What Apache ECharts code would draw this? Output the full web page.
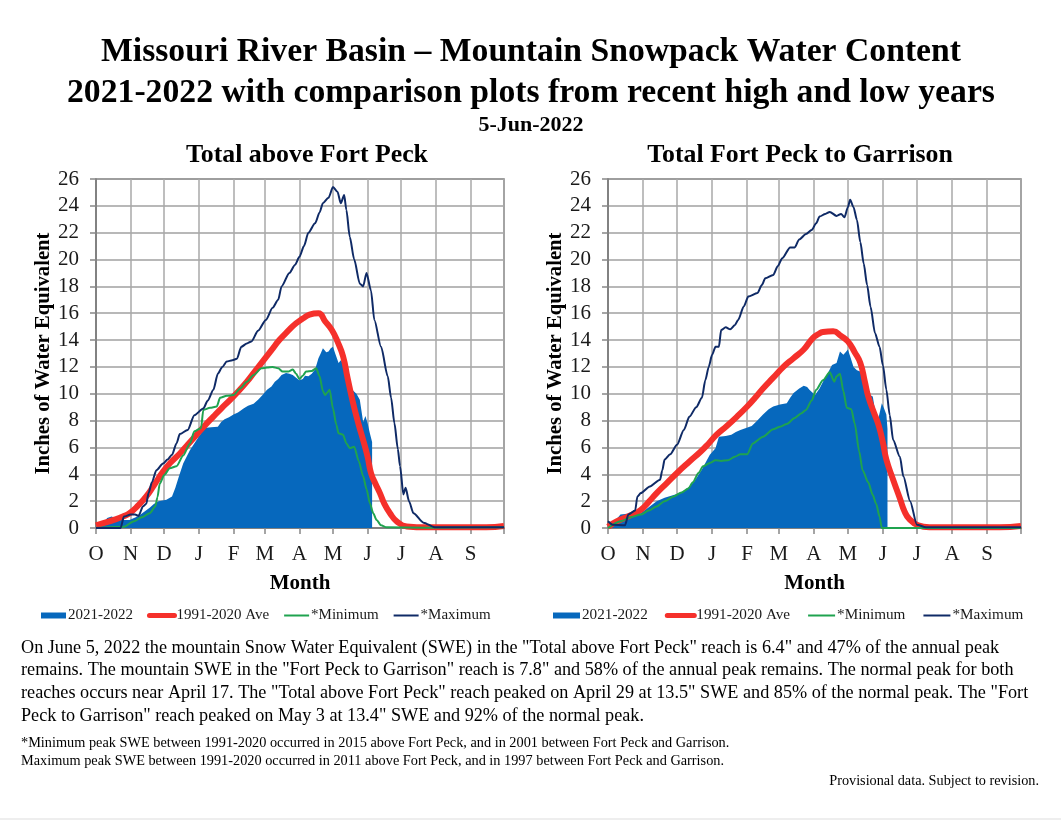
<!DOCTYPE html>
<html>
<head>
<meta charset="utf-8">
<script src="https://cdn.jsdelivr.net/npm/echarts@6/dist/echarts.min.js"></script>
<style>
  html, body { margin: 0; padding: 0; background: #fff; }
  #chart { width: 1061px; height: 820px; }
</style>
</head>
<body>
<div id="chart"></div>
<script>
// x is the day of the water year, 0 = Oct 1
const monthDays = [0, 31, 61, 92, 123, 151, 182, 212, 243, 273, 304, 335, 365]
const monthLabels = ['O', 'N', 'D', 'J', 'F', 'M', 'A', 'M', 'J', 'J', 'A', 'S']

const aboveCurrent = [[0,0],[6,0.3],[10,0.75],[14,0.85],[18,0.7],[22,0.6],[30,0.6],[38,0.9],[48,1.5],[52,1.8],[56,2],[63,2.1],[68,2.35],[71,3],[74,3.8],[78,4.8],[84,5.8],[90,6.55],[94,7.05],[97,7.45],[103,7.5],[109,7.55],[112,7.9],[115,8.1],[119,8.25],[123,8.45],[127,8.6],[132,8.9],[136,9.1],[141,9.25],[145,9.55],[149,9.9],[153,10.3],[157,10.55],[160,10.9],[163,11.1],[166,11.4],[170,11.55],[173,11.5],[176,11.4],[179,11.2],[182,11],[185,11.1],[187,11.35],[190,11.3],[193,11.5],[196,11.8],[199,12.65],[201,13],[203,13.4],[206,13.1],[208,13.15],[210,13.4],[212,13.5],[214,13],[217,12.3],[219,12.5],[221,12.3],[224,11.4],[228,10.4],[233,10],[236,9.55],[239,7.9],[241,8.35],[243,7.8],[245,7.05],[247,6.4]]
const aboveAve = [[0,0.2],[8,0.4],[16,0.6],[24,0.85],[30,1.1],[38,1.7],[45,2.35],[52,3.2],[60,4.2],[67,4.9],[75,5.55],[82,6.2],[90,6.95],[97,7.6],[105,8.3],[112,8.9],[120,9.55],[127,10.15],[135,10.9],[142,11.65],[150,12.5],[157,13.25],[164,14],[172,14.7],[179,15.25],[185,15.6],[191,15.9],[199,16],[205,15.4],[211,14.75],[216,13.9],[221,12.8],[225,11.2],[230,9.3],[235,7.7],[239,6.55],[243,5.3],[246,4.1],[250,3.3],[254,2.6],[258,1.8],[263,1.1],[269,0.5],[278,0.12],[296,0.05],[349,0.05],[365,0.15]]
const aboveMin = [[0,0],[25,0.1],[34,0.5],[41,0.8],[48,1.1],[53,1.6],[55,2.3],[57,3.3],[61,3.95],[66,4.45],[72,4.6],[78,5.4],[84,6.3],[88,7.2],[94,7.45],[96,8.8],[102,8.95],[108,9.05],[111,9.7],[117,9.85],[123,9.9],[129,10.4],[135,10.9],[141,11.4],[148,11.9],[153,11.95],[158,12],[163,11.9],[167,11.65],[172,11.65],[176,11.8],[179,11.5],[182,11.1],[185,11.35],[188,11.65],[193,11.7],[197,11.9],[200,11.3],[203,10.2],[205,9.9],[207,10.1],[209,10.3],[212,8.9],[215,7.7],[217,7.05],[221,6.95],[224,6.3],[227,5.95],[231,6.05],[235,5],[239,3.85],[242,2.9],[245,1.85],[248,1.1],[251,0.6],[255,0.2],[260,0.05],[296,0.02],[365,0.05]]
const aboveMax = [[0,0],[22,0],[25,0.85],[31,1],[35,1],[38,0.9],[42,1.6],[45,1.8],[47,2.6],[50,3.4],[54,4.3],[60,4.8],[64,5.1],[68,5.45],[72,6.3],[75,7],[82,7.3],[88,8.4],[96,8.9],[100,9.5],[105,10.3],[109,11.5],[113,12],[117,12.4],[122,12.5],[126,12.6],[130,13.5],[135,13.75],[139,13.9],[145,14.7],[152,15.5],[158,16.4],[163,17],[166,18],[173,19],[178,19.6],[182,20.2],[186,21],[190,22],[196,22.7],[200,23.5],[203,24.2],[208,24.6],[212,25.4],[216,25.05],[219,24.2],[222,24.8],[224,23.7],[227,21.7],[231,20],[236,18.2],[239,18],[242,19],[246,17.7],[249,15.5],[255,13.5],[261,11.3],[264,9.7],[267,7.8],[270,5.9],[272,4.6],[275,2.5],[277,3],[280,2],[284,1.1],[293,0.4],[303,0.05],[365,0.05]]

const garrisonCurrent = [[0,0],[6,0.5],[11,1],[15,1.05],[20,1.1],[25,1.05],[29,1.1],[36,1.55],[43,2],[50,2.25],[58,2.45],[67,2.7],[72,3.1],[76,3.45],[83,4.35],[87,5],[90,5.45],[95,5.95],[98,6.8],[104,6.85],[109,6.95],[113,7.15],[117,7.3],[122,7.45],[127,7.6],[132,8],[137,8.45],[142,8.85],[146,9.05],[152,9.2],[158,9.3],[161,9.7],[164,10.05],[169,10.4],[173,10.6],[176,10.5],[178,10.3],[183,9.9],[187,10.4],[190,10.9],[194,11.5],[198,12.15],[202,12.3],[205,13.15],[208,12.9],[210,13.1],[212,13.3],[214,12.8],[217,12],[220,11.75],[223,11.65],[226,10.8],[228,10.05],[234,9.8],[236,8.8],[238,7.8],[242,9.3],[244,8.9],[246,8.45],[247,7.4]]
const garrisonAve = [[0,0.1],[8,0.5],[20,0.95],[29,1.35],[36,1.95],[43,2.6],[52,3.35],[61,4.1],[72,4.95],[82,5.7],[89,6.3],[96,6.95],[105,7.6],[114,8.3],[123,9.05],[130,9.7],[137,10.4],[146,11.2],[155,12],[164,12.65],[173,13.3],[181,14.15],[186,14.45],[190,14.6],[199,14.65],[206,14.3],[212,13.9],[218,13.1],[223,12.3],[227,10.9],[230,9.8],[235,8.6],[239,7.7],[243,6.35],[246,5.1],[252,3.6],[258,2.2],[262,1.25],[266,0.7],[274,0.2],[284,0.05],[346,0.05],[365,0.15]]
const garrisonMin = [[0,0],[11,0.5],[20,0.8],[29,1],[36,1.3],[43,1.6],[50,2],[58,2.35],[65,2.65],[71,2.95],[75,3.4],[80,4.1],[84,4.6],[90,4.85],[95,5.05],[100,5],[106,5.05],[112,5.3],[117,5.5],[123,5.5],[128,6.3],[137,6.8],[146,7.35],[152,7.55],[158,7.75],[165,8.2],[171,8.55],[175,8.8],[180,9.5],[184,10.3],[190,11],[196,11.6],[200,10.9],[202,11.3],[205,11.5],[208,10.2],[211,8.95],[215,8.85],[218,7.8],[222,5.7],[225,4.3],[230,3.4],[234,2.45],[237,1.8],[240,0.85],[242,0],[365,0]]
const garrisonMax = [[0,0.5],[4,0.25],[15,0.2],[18,1],[24,1.3],[26,2.35],[29,2.6],[37,3.1],[46,3.6],[48,4.3],[50,5.1],[55,5.5],[61,6.2],[67,7.3],[72,8.3],[78,9],[83,9.7],[86,11],[89,12],[92,12.9],[95,13.5],[98,13.5],[100,14.75],[104,14.95],[108,14.8],[112,15.1],[115,15.5],[120,16.5],[124,17.25],[132,17.5],[136,18.1],[139,18.6],[146,18.85],[150,19.5],[154,20.1],[161,20.9],[165,20.9],[169,21.5],[175,21.9],[180,22.2],[184,22.7],[187,23.2],[192,23.4],[196,23.55],[202,23.25],[206,23.4],[209,23.15],[212,23.9],[214,24.45],[217,23.9],[220,22.95],[223,21.3],[226,19.7],[229,18.1],[232,16.5],[236,14.5],[240,13.5],[243,12.1],[246,10.3],[249,8.4],[252,6.55],[258,5.3],[261,3.85],[267,2],[273,0.25],[281,0.05],[365,0.05]]

const titleLines = ['Missouri River Basin – Mountain Snowpack Water Content', '2021-2022 with comparison plots from recent high and low years']
const dateLine = '5-Jun-2022'
const panelTitles = ['Total above Fort Peck', 'Total Fort Peck to Garrison']
const seriesNames = ['2021-2022', '1991-2020 Ave', '*Minimum', '*Maximum']
const noteLines = [
  'On June 5, 2022 the mountain Snow Water Equivalent (SWE) in the "Total above Fort Peck" reach is 6.4" and 47% of the annual peak',
  'remains. The mountain SWE in the "Fort Peck to Garrison" reach is 7.8" and 58% of the annual peak remains. The normal peak for both',
  'reaches occurs near April 17. The "Total above Fort Peck" reach peaked on April 29 at 13.5" SWE and 85% of the normal peak. The "Fort',
  'Peck to Garrison" reach peaked on May 3 at 13.4" SWE and 92% of the normal peak.'
]
const footLines = [
  '*Minimum peak SWE between 1991-2020 occurred in 2015 above Fort Peck, and in 2001 between Fort Peck and Garrison.',
  'Maximum peak SWE between 1991-2020 occurred in 2011 above Fort Peck, and in 1997 between Fort Peck and Garrison.'
]
const provisional = 'Provisional data. Subject to revision.'

const serif = '"Liberation Serif", serif'
const textColor = '#1a1a1a'
const colors = ['#0668bd', '#f5302b', '#1fa34f', '#0f2a66']

function label(text, x, y, size, weight, align) {
  return {
    type: 'text',
    x: x,
    y: y,
    style: { text: text, fontFamily: serif, fontSize: size, fontWeight: weight || 'normal', fill: '#000', align: align || 'center', verticalAlign: 'middle' }
  }
}

function makeXAxis(gridIndex) {
  return {
    gridIndex: gridIndex,
    type: 'value',
    min: 0,
    max: 365,
    name: 'Month',
    nameLocation: 'middle',
    nameGap: 45,
    nameTextStyle: { fontFamily: serif, fontSize: 21, fontWeight: 'bold', color: '#000' },
    axisLine: { onZero: false, lineStyle: { color: '#777', width: 1.5 } },
    axisTick: { show: true, length: 6, customValues: monthDays, lineStyle: { color: '#888', width: 1.5 } },
    axisLabel: {
      customValues: monthDays.slice(0, 12),
      margin: 16,
      fontFamily: serif,
      fontSize: 21,
      color: textColor,
      formatter: (value) => monthLabels[monthDays.indexOf(value)]
    },
    splitLine: { show: true, customValues: monthDays, lineStyle: { color: '#a8a8a8', width: 1.5 } }
  }
}

function makeYAxis(gridIndex) {
  return {
    gridIndex: gridIndex,
    type: 'value',
    min: 0,
    max: 26,
    interval: 2,
    name: 'Inches of Water Equivalent',
    nameLocation: 'middle',
    nameRotate: 90,
    nameGap: 39,
    nameTextStyle: { fontFamily: serif, fontSize: 20.7, fontWeight: 'bold', color: '#000' },
    axisLine: { show: true, lineStyle: { color: '#777', width: 1.5 } },
    axisTick: { show: true, length: 6, lineStyle: { color: '#888', width: 1.5 } },
    axisLabel: { margin: 17, padding: [4, 0, 0, 0], fontFamily: serif, fontSize: 21, color: textColor },
    splitLine: { show: true, lineStyle: { color: '#a0a0a0', width: 1.5 } }
  }
}

function makeSeries(gridIndex, current, ave, min, max) {
  const base = { type: 'line', xAxisIndex: gridIndex, yAxisIndex: gridIndex, showSymbol: false, symbol: 'none', animation: false }
  const curve = { ...base, smooth: 0.25, smoothMonotone: 'x' }
  return [
    { ...base, name: seriesNames[0], data: current, lineStyle: { width: 0 }, itemStyle: { color: colors[0] }, areaStyle: { color: colors[0], opacity: 1 } },
    { ...base, smooth: 0.5, name: seriesNames[1], data: ave, lineStyle: { width: 6, color: colors[1], join: 'round' }, itemStyle: { color: colors[1] } },
    { ...curve, name: seriesNames[2], data: min, lineStyle: { width: 2, color: colors[2] }, itemStyle: { color: colors[2] } },
    { ...curve, name: seriesNames[3], data: max, lineStyle: { width: 2, color: colors[3] }, itemStyle: { color: colors[3] } }
  ]
}

function makeLegend(left, fontSize, itemWidth, itemGap) {
  return {
    left: left,
    top: 603,
    itemGap: itemGap,
    itemWidth: itemWidth,
    itemHeight: 6,
    selectedMode: false,
    textStyle: { fontFamily: serif, fontSize: fontSize, color: textColor, padding: [0, 0, 0, -3] },
    data: [
      { name: seriesNames[0], icon: 'rect', itemStyle: { color: colors[0] } },
      // the symbol in a line's legend key is hidden, only the line stays
      { name: seriesNames[1], itemStyle: { opacity: 0 }, lineStyle: { width: 5, cap: 'round' } },
      { name: seriesNames[2], itemStyle: { opacity: 0 } },
      { name: seriesNames[3], itemStyle: { opacity: 0 } }
    ]
  }
}

const texts = [
  label(titleLines[0], 531, 52, 33.7, 'bold'),
  label(titleLines[1], 531, 93, 33.7, 'bold'),
  label(dateLine, 531, 125, 22, 'bold'),
  label(panelTitles[0], 307, 155, 25.8, 'bold'),
  label(panelTitles[1], 800, 155, 25.8, 'bold'),
  label(provisional, 1039, 781, 14.25, 'normal', 'right'),
  { type: 'rect', shape: { x: 0, y: 818, width: 1061, height: 2 }, style: { fill: '#eeeeee' } }
]
noteLines.forEach((line, i) => texts.push(label(line, 21, 648 + i * 22.6, 18.2, 'normal', 'left')))
footLines.forEach((line, i) => texts.push(label(line, 21, 743 + i * 18, 14.3, 'normal', 'left')))

const myChart = echarts.init(document.getElementById('chart'), null, { renderer: 'canvas' })
const option = {
  backgroundColor: '#fff',
  animation: false,
  grid: [
    { left: 96, top: 179, width: 408, height: 349, show: true, borderColor: '#777', borderWidth: 1.5, backgroundColor: 'transparent' },
    { left: 608, top: 179, width: 413, height: 349, show: true, borderColor: '#777', borderWidth: 1.5, backgroundColor: 'transparent' }
  ],
  xAxis: [makeXAxis(0), makeXAxis(1)],
  yAxis: [makeYAxis(0), makeYAxis(1)],
  legend: [makeLegend(36, 15, 25, 14), makeLegend(548, 15.2, 27, 17)],
  series: [
    ...makeSeries(0, aboveCurrent, aboveAve, aboveMin, aboveMax),
    ...makeSeries(1, garrisonCurrent, garrisonAve, garrisonMin, garrisonMax)
  ],
  graphic: texts
}
myChart.setOption(option)
</script>
</body>
</html>
